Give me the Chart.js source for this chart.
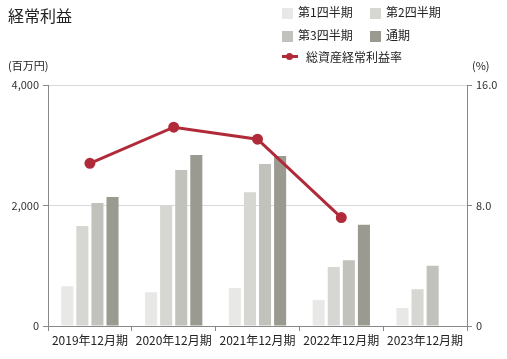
<!DOCTYPE html>
<html>
<head>
<meta charset="utf-8">
<script src="https://cdn.jsdelivr.net/npm/chart.js@4"></script>
<style>
  body { margin: 0; background: #fff; font-family: "Noto Sans CJK JP", sans-serif; }
  #wrap { position: relative; width: 507px; height: 359px; }
  .txt { position: absolute; color: #222; white-space: nowrap; }
  .box { position: absolute; width: 11px; height: 11px; }
</style>
</head>
<body>
<div id="wrap">
  <canvas id="grafik" width="507" height="359"></canvas>
  <div class="txt" style="left:8px;top:3px;font-size:16px;">経常利益</div>
  <div class="txt" style="left:8px;top:57px;font-size:11px;">(百万円)</div>
  <div class="txt" style="left:472px;top:57px;font-size:11px;">(%)</div>
  <div class="box" style="left:282px;top:8px;background:#e8e8e6;"></div>
  <div class="txt" style="left:298px;top:3px;font-size:12px;">第1四半期</div>
  <div class="box" style="left:370px;top:8px;background:#d6d6d2;"></div>
  <div class="txt" style="left:386px;top:3px;font-size:12px;">第2四半期</div>
  <div class="box" style="left:282px;top:31px;background:#c2c2bc;"></div>
  <div class="txt" style="left:298px;top:26px;font-size:12px;">第3四半期</div>
  <div class="box" style="left:370px;top:31px;background:#9a9a90;"></div>
  <div class="txt" style="left:386px;top:26px;font-size:12px;">通期</div>
  <div class="box" style="left:282px;top:55px;width:16px;height:3px;background:#b02a3a;"></div>
  <div class="box" style="left:286px;top:53px;width:7px;height:7px;border-radius:50%;background:#b02a3a;"></div>
  <div class="txt" style="left:306px;top:48px;font-size:12px;">総資産経常利益率</div>
</div>
<script>
const kategorije = ['2019年12月期', '2020年12月期', '2021年12月期', '2022年12月期', '2023年12月期'];
const prviKvartal = [660, 560, 630, 430, 300];
const drugiKvartal = [1660, 2000, 2220, 980, 610];
const treciKvartal = [2040, 2590, 2690, 1090, 1000];
const cijelaGodina = [2140, 2840, 2820, 1680, null];
const stopaDobiti = [10.8, 13.2, 12.4, 7.2, null];

const oznakaFont = { family: '"Noto Sans CJK JP", sans-serif', size: 11 };

const ctx = document.getElementById('grafik').getContext('2d');
const grafik = new Chart(ctx, {
    data: {
        labels: kategorije,
        datasets: [
            {
                type: 'line',
                label: '総資産経常利益率',
                data: stopaDobiti,
                yAxisID: 'y2',
                borderColor: '#b02a3a',
                backgroundColor: '#b02a3a',
                borderWidth: 3,
                pointRadius: 4,
                pointBackgroundColor: '#b02a3a',
                spanGaps: false,
                order: 0
            },
            { type: 'bar', label: '第1四半期', data: prviKvartal, backgroundColor: '#e8e8e6', yAxisID: 'y', order: 1 },
            { type: 'bar', label: '第2四半期', data: drugiKvartal, backgroundColor: '#d6d6d2', yAxisID: 'y', order: 1 },
            { type: 'bar', label: '第3四半期', data: treciKvartal, backgroundColor: '#c2c2bc', yAxisID: 'y', order: 1 },
            { type: 'bar', label: '通期', data: cijelaGodina, backgroundColor: '#9a9a90', yAxisID: 'y', order: 1 }
        ]
    },
    options: {
        responsive: false,
        animation: false,
        layout: { padding: { top: 85, left: 0, right: 0, bottom: 0 } },
        datasets: {
            bar: { categoryPercentage: 0.72, barPercentage: 0.8 }
        },
        plugins: {
            legend: { display: false },
            tooltip: { enabled: false }
        },
        scales: {
            x: {
                grid: { drawOnChartArea: false, tickLength: 5, color: '#888', offset: true },
                border: { color: '#888' },
                ticks: { color: '#222', font: { family: oznakaFont.family, size: 12 }, maxRotation: 0, padding: 2 },
                afterFit: function(skala) { skala.height = 33; }
            },
            y: {
                position: 'left',
                min: 0,
                max: 4000,
                ticks: {
                    stepSize: 2000,
                    color: '#333',
                    font: oznakaFont,
                    padding: 4,
                    callback: function(v) { return v.toLocaleString('en-US'); }
                },
                grid: { color: '#d9d9d9', tickColor: '#888', tickLength: 5 },
                border: { color: '#888' },
                afterFit: function(skala) { skala.width = 48; }
            },
            y2: {
                position: 'right',
                min: 0,
                max: 16,
                ticks: {
                    stepSize: 8,
                    color: '#333',
                    font: oznakaFont,
                    padding: 4,
                    callback: function(v) { return v === 0 ? '0' : v.toFixed(1); }
                },
                grid: { drawOnChartArea: false, tickColor: '#888', tickLength: 5 },
                border: { color: '#888' },
                afterFit: function(skala) { skala.width = 40; }
            }
        }
    }
});
</script>
</body>
</html>
